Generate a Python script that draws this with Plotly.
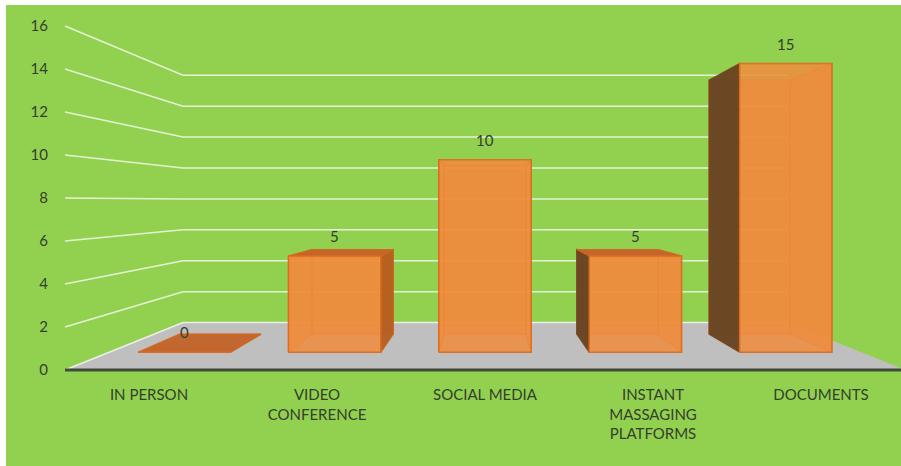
import plotly.graph_objects as go

# ---- data -------------------------------------------------------------
categories = ["IN PERSON", "VIDEO CONFERENCE", "SOCIAL MEDIA",
              "INSTANT MASSAGING PLATFORMS", "DOCUMENTS"]
category_labels = ["IN PERSON", "VIDEO<br>CONFERENCE", "SOCIAL MEDIA",
                   "INSTANT<br>MASSAGING<br>PLATFORMS", "DOCUMENTS"]
values = [0, 5, 10, 5, 15]
value_ticks = [0, 2, 4, 6, 8, 10, 12, 14, 16]

# ---- 3-D view settings (one-point perspective onto the front plane) ---
EYE_X = 2.5          # horizontal vanishing position, category units
EYE_V = 7.85         # eye level, value units
VIEW_DIST = 2.56     # viewer distance, in floor-depth units
FLOOR_DEPTH = 1.0
BAR_HALF = 0.307     # half bar width, category units
BAR_FRONT, BAR_BACK = 0.30, 0.69

GREEN = "#92D050"
FLOOR = "#BFBFBF"
TEXT = "#34402D"
FONT = "Lato, 'Open Sans', sans-serif"


def project(x, v, d):
    s = VIEW_DIST / (VIEW_DIST + d)
    return EYE_X + s * (x - EYE_X), EYE_V + s * (v - EYE_V)


def poly(points):
    xs, ys = [], []
    for x, v, d in points:
        px, py = project(x, v, d)
        xs.append(px)
        ys.append(py)
    xs.append(xs[0])
    ys.append(ys[0])
    return xs, ys


def add_faces(fig, faces, fill, line, width=1.2):
    xs, ys = [], []
    for f in faces:
        fx, fy = poly(f)
        xs += fx + [None]
        ys += fy + [None]
    fig.add_trace(go.Scatter(x=xs, y=ys, mode="lines", fill="toself",
                             fillcolor=fill, line=dict(color=line, width=width),
                             hoverinfo="skip", showlegend=False))


n = len(categories)
fig = go.Figure()

# floor
x0, x1 = 0, n
add_faces(fig, [[(x0, 0, 0), (x1, 0, 0), (x1, 0, FLOOR_DEPTH), (x0, 0, FLOOR_DEPTH)]],
          FLOOR, FLOOR, 0.5)

# gridlines on the side wall and the back wall
gx, gy = [], []
for t in value_ticks:
    for p in [(x0, t, 0), (x0, t, FLOOR_DEPTH), (x1, t, FLOOR_DEPTH)]:
        px, py = project(*p)
        gx.append(px)
        gy.append(py)
    gx.append(None)
    gy.append(None)
fig.add_trace(go.Scatter(x=gx, y=gy, mode="lines",
                         line=dict(color="rgba(255,255,255,0.75)", width=1.5),
                         hoverinfo="skip", showlegend=False))

# bars as boxes
hidden, right_sides, left_sides, tops, fronts = [], [], [], [], []
for i, h in enumerate(values):
    c = i + 0.5
    xl, xr = c - BAR_HALF, c + BAR_HALF
    df, db = BAR_FRONT, BAR_BACK
    back = [(xl, 0, db), (xr, 0, db), (xr, h, db), (xl, h, db)]
    left = [(xl, 0, df), (xl, 0, db), (xl, h, db), (xl, h, df)]
    right = [(xr, 0, df), (xr, 0, db), (xr, h, db), (xr, h, df)]
    top = [(xl, h, df), (xr, h, df), (xr, h, db), (xl, h, db)]
    front = [(xl, 0, df), (xr, 0, df), (xr, h, df), (xl, h, df)]
    hidden.append(back)
    if project(xr, 0, df)[0] < EYE_X:
        right_sides.append(right)
        hidden.append(left)
    elif project(xl, 0, df)[0] > EYE_X:
        left_sides.append(left)
        hidden.append(right)
    else:
        hidden += [left, right]
    if h < EYE_V:
        tops.append(top)
    fronts.append(front)

add_faces(fig, hidden, "rgba(236,132,52,0.55)", "rgba(222,110,30,0.7)")
if right_sides:
    add_faces(fig, right_sides, "rgba(180,94,32,0.95)", "rgba(200,100,30,0.9)")
if left_sides:
    add_faces(fig, left_sides, "rgba(104,68,34,0.97)", "rgba(120,70,30,0.9)")
add_faces(fig, tops, "rgba(194,100,42,0.97)", "rgba(210,104,32,0.9)")
add_faces(fig, fronts, "rgba(239,140,60,0.86)", "rgba(222,108,28,0.95)", 1.5)

# front edge of the floor (category axis line)
ax_x, ax_y = [], []
for p in [(x0, 0, 0), (x1 + 0.1, 0, 0)]:
    px, py = project(*p)
    ax_x.append(px)
    ax_y.append(py)
fig.add_trace(go.Scatter(x=ax_x, y=ax_y, mode="lines",
                         line=dict(color="#3F4A3A", width=3),
                         hoverinfo="skip", showlegend=False))

# value labels above each bar's front face
for i, h in enumerate(values):
    lx, ly = project(i + 0.5, h, BAR_FRONT)
    fig.add_annotation(x=lx, y=ly, text=str(h), showarrow=False,
                       yanchor="middle", yshift=20,
                       font=dict(family=FONT, size=15, color=TEXT))

# ---- layout -------------------------------------------------------------
W, H = 901, 466
ML, MR, MT, MB = 55, 0, 5, 94
PX_PER_CAT = 168.0
PX_PER_VAL = 21.5
FLOOR_LEFT_PX = 65
FLOOR_FRONT_PX = 370

plot_w = W - ML - MR
plot_h = H - MT - MB
xr0 = -(FLOOR_LEFT_PX - ML) / PX_PER_CAT
xr1 = xr0 + plot_w / PX_PER_CAT
yr0 = -(H - MB - FLOOR_FRONT_PX) / PX_PER_VAL
yr1 = yr0 + plot_h / PX_PER_VAL

fig.update_layout(
    width=W, height=H,
    margin=dict(l=ML, r=MR, t=MT, b=MB, pad=0),
    paper_bgcolor=GREEN,
    plot_bgcolor="rgba(0,0,0,0)",
    showlegend=False,
    font=dict(family=FONT, size=15, color=TEXT),
    xaxis=dict(range=[xr0, xr1], showgrid=False, zeroline=False, showline=False,
               tickvals=[i + 0.5 for i in range(n)], ticktext=category_labels,
               ticks="", ticklabelstandoff=12,
               tickfont=dict(family=FONT, size=15, color=TEXT), fixedrange=True),
    yaxis=dict(range=[yr0, yr1], showgrid=False, zeroline=False, showline=False,
               tickvals=value_ticks, ticks="", ticklabelstandoff=6,
               tickfont=dict(family=FONT, size=15, color=TEXT), fixedrange=True),
    # white frame along the top and left edges of the page
    shapes=[
        dict(type="rect", xref="paper", yref="paper", layer="below",
             x0=-ML / plot_w, x1=-(ML - 6) / plot_w, y0=-MB / plot_h - 0.05,
             y1=1 + MT / plot_h, fillcolor="white", line=dict(width=0)),
        dict(type="rect", xref="paper", yref="paper", layer="below",
             x0=-ML / plot_w, x1=1.05, y0=1, y1=1 + MT / plot_h,
             fillcolor="white", line=dict(width=0)),
    ],
)

fig.write_html("out.html", config={"displayModeBar": False})
